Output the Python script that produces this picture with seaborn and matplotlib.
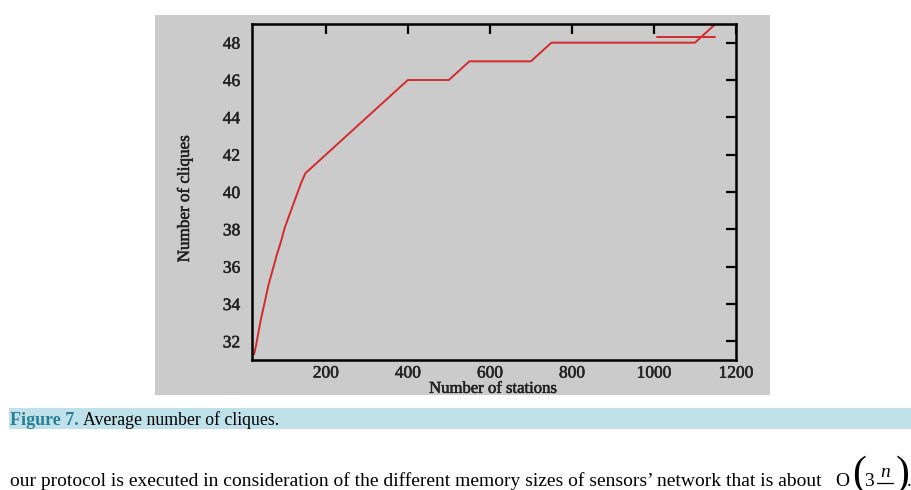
import numpy as np
import pandas as pd
import seaborn as sns
import matplotlib.pyplot as plt
import matplotlib.patheffects as pe
from matplotlib.patches import Rectangle
from matplotlib.lines import Line2D

# values
stations = [25, 30, 40, 50, 60, 70, 80, 90, 100, 110, 120, 130, 140, 150,
            400, 500, 550, 700, 750, 1100, 1150]
cliques = [31.3, 31.8, 33.0, 34.0, 35.0, 35.8, 36.6, 37.3, 38.1, 38.7, 39.3, 39.9, 40.5, 41.0,
           46.0, 46.0, 47.0, 47.0, 48.0, 48.0, 49.0]
x_ticks = [200, 400, 600, 800, 1000, 1200]
y_ticks = [32, 34, 36, 38, 40, 42, 44, 46, 48]

df = pd.DataFrame({"stations": stations, "cliques": cliques})

sns.set_style("white")
plt.rcParams["font.family"] = ["Liberation Serif", "DejaVu Serif"]
plt.rcParams["mathtext.fontset"] = "stix"

fig = plt.figure(figsize=(9.11, 4.90), dpi=100)

# grey panel behind the plot
fig.patches.append(Rectangle((155 / 911, 1 - 395 / 490), 615 / 911, 380 / 490,
                             transform=fig.transFigure, facecolor="#cbcbcb",
                             edgecolor="none", zorder=-5))
# caption bar
fig.patches.append(Rectangle((9 / 911, 1 - 429 / 490), 902 / 911, 21 / 490,
                             transform=fig.transFigure, facecolor="#bfe1ea",
                             edgecolor="none", zorder=-5))

ax = fig.add_axes([252 / 911, 1 - 360 / 490, 484 / 911, 336 / 490])
ax.set_zorder(2)
ax.set_facecolor("#cbcbcb")

sns.lineplot(data=df, x="stations", y="cliques", ax=ax, color="#d42a2a",
             linewidth=1.4, label=" ", sort=False)

ax.set_xlim(20, 1200)
ax.set_ylim(31, 49)
ax.set_xticks(x_ticks)
ax.set_yticks(y_ticks)
ax.set_xticklabels([str(t) for t in x_ticks])
ax.set_yticklabels([str(t) for t in y_ticks])
ax.tick_params(direction="in", length=7, width=1.6, top=True, right=True,
               labelsize=12.5, colors="black")
ax.tick_params(axis="x", pad=4)
ax.tick_params(axis="y", pad=8.5)

bold_ish = [pe.withStroke(linewidth=0.4, foreground="#222222")]
for lab in ax.get_xticklabels() + ax.get_yticklabels():
    lab.set_path_effects(bold_ish)
    lab.set_color("#222222")

for s in ax.spines.values():
    s.set_visible(True)
    s.set_color("black")
    s.set_linewidth(1.8)

ax.set_xlabel("Number of stations", fontsize=12, color="#222222", path_effects=bold_ish)
ax.set_ylabel("Number of cliques", fontsize=12.3, color="#222222", path_effects=bold_ish)
ax.xaxis.set_label_coords(0.498, -0.062)
ax.yaxis.set_label_coords(-0.122, 0.48)

leg = ax.legend(loc="center left", bbox_to_anchor=(0.837, 0.955), frameon=False,
                borderpad=0, borderaxespad=0, handlelength=3.2, handletextpad=0,
                fontsize=13)

# caption and following text
fig.text(10 / 911, 1 - 425 / 490, "Figure 7.", color="#2b7f93", fontsize=13,
         fontweight="bold")
fig.text(83 / 911, 1 - 425 / 490, "Average number of cliques.", color="black",
         fontsize=12.8)
fig.text(10 / 911, 1 - 486 / 490,
         "our protocol is executed in consideration of the different memory sizes "
         "of sensors\u2019 network that is about",
         fontsize=14, color="black")

# O(3 n/-) expression, cut off by the bottom edge like the reference
fig.text(835 / 911, 1 - 486 / 490, "O", fontsize=14, color="black")
fig.text(852 / 911, 1 - 455 / 490, "(", fontsize=30, color="black", va="top",
         fontweight="light")
fig.text(864 / 911, 1 - 486 / 490, "3", fontsize=14, color="black")
fig.text(880 / 911, 1 - 477 / 490, "n", fontsize=14, color="black", style="italic")
fig.lines.append(Line2D([877 / 911, 893 / 911], [1 - 483 / 490, 1 - 483 / 490],
                        transform=fig.transFigure, color="black", linewidth=0.9))
fig.text(896 / 911, 1 - 455 / 490, ")", fontsize=30, color="black", va="top",
         fontweight="light")
fig.text(907 / 911, 1 - 486 / 490, ".", fontsize=14, color="black")

fig.savefig("out.png", dpi=100)
